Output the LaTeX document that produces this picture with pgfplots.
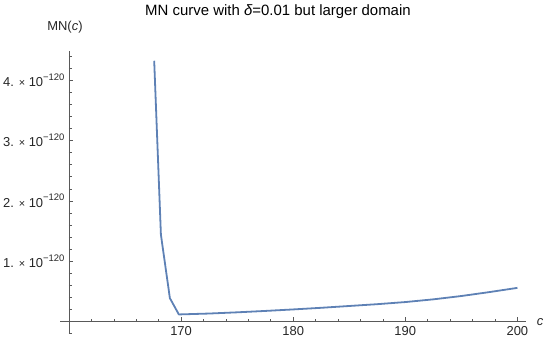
\documentclass[border=0pt]{standalone}
\usepackage{fontspec}
\setmainfont{Liberation Sans}
\usepackage{pgfplots}
\pgfplotsset{compat=1.18}
\definecolor{mblue}{HTML}{5E81B5}
\definecolor{axgray}{gray}{0.35}
\newcommand{\sci}[1]{#1. {\fontsize{11}{13}\selectfont ×} 10\raisebox{0.5em}{\fontsize{9.5}{11}\selectfont −120}}
\begin{document}
\begin{tikzpicture}
\begin{axis}[
  scale only axis,
  width=457.4bp, height=282.7bp,
  xmin=160, xmax=200.8, ymin=-0.2, ymax=4.48,
  axis x line=middle, axis y line=left,
  axis line style={-, draw=axgray, line width=0.6bp},
  every inner x axis line/.append style={-},
  every outer x axis line/.append style={-},
  every inner y axis line/.append style={-},
  every outer y axis line/.append style={-},
  tick align=inside,
  major tick length=4.5bp, minor tick length=2.8bp,
  tick style={draw=axgray, line width=0.6bp},
  xtick={170,180,190,200},
  minor xtick={162,164,166,168,172,174,176,178,182,184,186,188,192,194,196,198},
  ytick={1,2,3,4},
  yticklabels={\sci{1},\sci{2},\sci{3},\sci{4}},
  minor ytick={-0.2,0.2,0.4,0.6,0.8,1.2,1.4,1.6,1.8,2.2,2.4,2.6,2.8,3.2,3.4,3.6,3.8,4.2,4.4},
  /pgf/number format/assume math mode=true,
  tick label style={font=\fontsize{13}{15}\selectfont, text=black!85},
  xticklabel style={yshift=-1.5bp},
  yticklabel style={xshift=-1bp},
  clip=false,
]
\addplot[mblue, line width=1.8bp, line join=round] coordinates {
  (167.6,4.32) (168.2,1.44) (169.0,0.39) (169.8,0.12)
  (172.5,0.135) (175,0.155) (177.5,0.178) (180,0.203)
  (182.5,0.23) (185,0.26) (187.5,0.29) (190,0.325)
  (192.5,0.37) (195,0.425) (197.5,0.49) (200,0.56)
};
\draw[axgray, line width=0.6bp] (axis cs:159.2,0) -- (axis cs:160,0);
\node[font=\fontsize{13}{15}\selectfont\itshape, text=black!85] at (axis cs:202.02,0) {c};
\node[font=\fontsize{13}{15}\selectfont, text=black!85] at (axis cs:159.64,4.879) {MN(\textit{c})};
\node[font=\fontsize{15}{18}\selectfont] at (axis cs:178.64,5.127) {MN curve with \textit{δ}=0.01 but larger domain};
\coordinate (bbBL) at (axis cs:153.845,-0.369);
\coordinate (bbTR) at (axis cs:202.91,5.326);
\end{axis}
\pgfresetboundingbox
\path[use as bounding box] (bbBL) rectangle (bbTR);
\end{tikzpicture}
\end{document}
